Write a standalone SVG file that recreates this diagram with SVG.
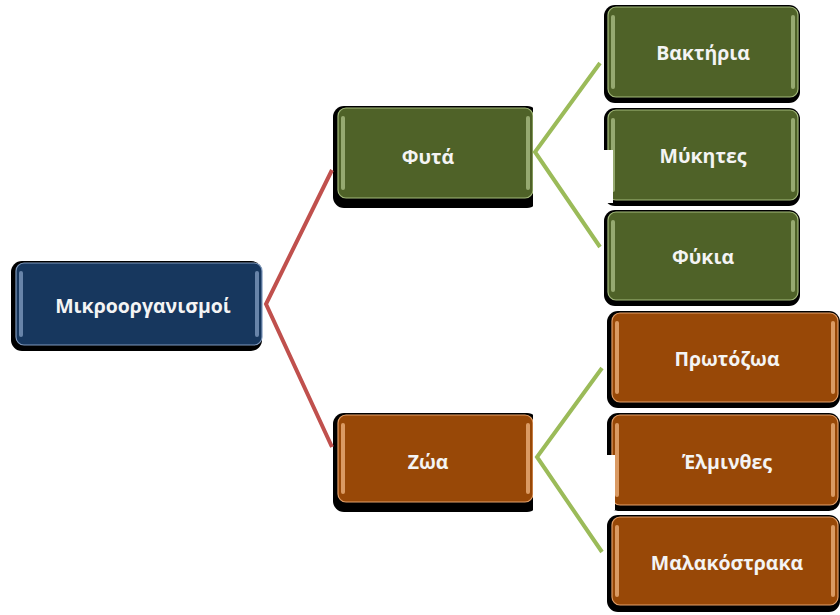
<svg xmlns="http://www.w3.org/2000/svg" width="840" height="615" viewBox="0 0 840 615">
<defs>
<style>
.sh{fill:#000}
.navy{fill:#17375e;stroke:#7f98bb;stroke-width:1.2}
.olive{fill:#4f6228;stroke:#a4ba7b;stroke-width:1.2}
.brown{fill:#984807;stroke:#e3a06a;stroke-width:1.2}
.hn{fill:#9fb8dc;opacity:0.6}
.ho{fill:#c6d9a0;opacity:0.6}
.hb{fill:#f7bd8a;opacity:0.7}
.t{font-family:"Open Sans","Liberation Sans",sans-serif;font-weight:bold;font-size:19.5px;fill:#f4f4f4;text-anchor:middle}
.red{stroke:#c0504d;stroke-width:4;fill:none;stroke-linecap:butt}
.grn{stroke:#9bbb59;stroke-width:4;fill:none;stroke-linecap:butt}
.wh{fill:#fff}
</style>
</defs>
<rect width="840" height="615" fill="#fff"/>

<g id="root">
<rect class="sh" x="11" y="261" width="251" height="90" rx="11"/>
<rect class="navy" x="16" y="263" width="246" height="82" rx="8"/>
<rect class="hn" x="19" y="271" width="4" height="66" rx="2"/>
<rect class="hn" x="255" y="271" width="4" height="66" rx="2"/>
<text class="t" x="143" y="313">Μικροοργανισμοί</text>
</g>

<g id="fyta">
<rect class="sh" x="333" y="106" width="205" height="102" rx="11"/>
<rect class="olive" x="338" y="108" width="195" height="90" rx="8"/>
<rect class="ho" x="341" y="116" width="4" height="74" rx="2"/>
<rect class="ho" x="526" y="116" width="4" height="74" rx="2"/>
<text class="t" x="428" y="164">Φυτά</text>
</g>

<g id="zoa">
<rect class="sh" x="333" y="413" width="205" height="99" rx="11"/>
<rect class="brown" x="338" y="415" width="195" height="87" rx="8"/>
<rect class="hb" x="341" y="423" width="4" height="71" rx="2"/>
<rect class="hb" x="526" y="423" width="4" height="71" rx="2"/>
<text class="t" x="428" y="469">Ζώα</text>
</g>

<rect class="wh" x="533" y="100" width="60" height="115"/>
<rect class="wh" x="533" y="405" width="60" height="115"/>

<g id="vaktiria">
<rect class="sh" x="604" y="5" width="196" height="98" rx="11"/>
<rect class="olive" x="608" y="7" width="190" height="90" rx="8"/>
<rect class="ho" x="611" y="15" width="4" height="74" rx="2"/>
<rect class="ho" x="791" y="15" width="4" height="74" rx="2"/>
<text class="t" x="703" y="60">Βακτήρια</text>
</g>

<g id="mykites">
<rect class="sh" x="604" y="108" width="196" height="98" rx="11"/>
<rect class="olive" x="608" y="110" width="190" height="90" rx="8"/>
<rect class="ho" x="611" y="118" width="4" height="74" rx="2"/>
<rect class="ho" x="791" y="118" width="4" height="74" rx="2"/>
<text class="t" x="703" y="163">Μύκητες</text>
<rect class="wh" x="590" y="150" width="23" height="53"/>
</g>

<g id="fykia">
<rect class="sh" x="604" y="210" width="196" height="96" rx="11"/>
<rect class="olive" x="608" y="212" width="190" height="88" rx="8"/>
<rect class="ho" x="611" y="220" width="4" height="72" rx="2"/>
<rect class="ho" x="791" y="220" width="4" height="72" rx="2"/>
<text class="t" x="703" y="264">Φύκια</text>
</g>

<g id="protozoa">
<rect class="sh" x="607" y="311" width="233" height="97" rx="11"/>
<rect class="brown" x="612" y="313" width="226" height="89" rx="8"/>
<rect class="hb" x="615" y="321" width="4" height="73" rx="2"/>
<rect class="hb" x="831" y="321" width="4" height="73" rx="2"/>
<text class="t" x="727" y="366">Πρωτόζωα</text>
</g>

<g id="elminthes">
<rect class="sh" x="607" y="413" width="233" height="98" rx="11"/>
<rect class="brown" x="612" y="415" width="226" height="90" rx="8"/>
<rect class="hb" x="615" y="423" width="4" height="74" rx="2"/>
<rect class="hb" x="831" y="423" width="4" height="74" rx="2"/>
<text class="t" x="727" y="469">Έλμινθες</text>
<rect class="wh" x="590" y="455" width="25" height="55"/>
</g>

<g id="malakostraka">
<rect class="sh" x="607" y="515" width="233" height="97" rx="11"/>
<rect class="brown" x="612" y="517" width="226" height="88" rx="8"/>
<rect class="hb" x="615" y="525" width="4" height="72" rx="2"/>
<rect class="hb" x="831" y="525" width="4" height="72" rx="2"/>
<text class="t" x="727" y="570">Μαλακόστρακα</text>
</g>

<g id="connectors">
<polyline class="red" points="332,170 266,304 332,447"/>
<polyline class="grn" points="600,63 535,152 600,247"/>
<polyline class="grn" points="602,368 537,457 602,552"/>
</g>
</svg>
